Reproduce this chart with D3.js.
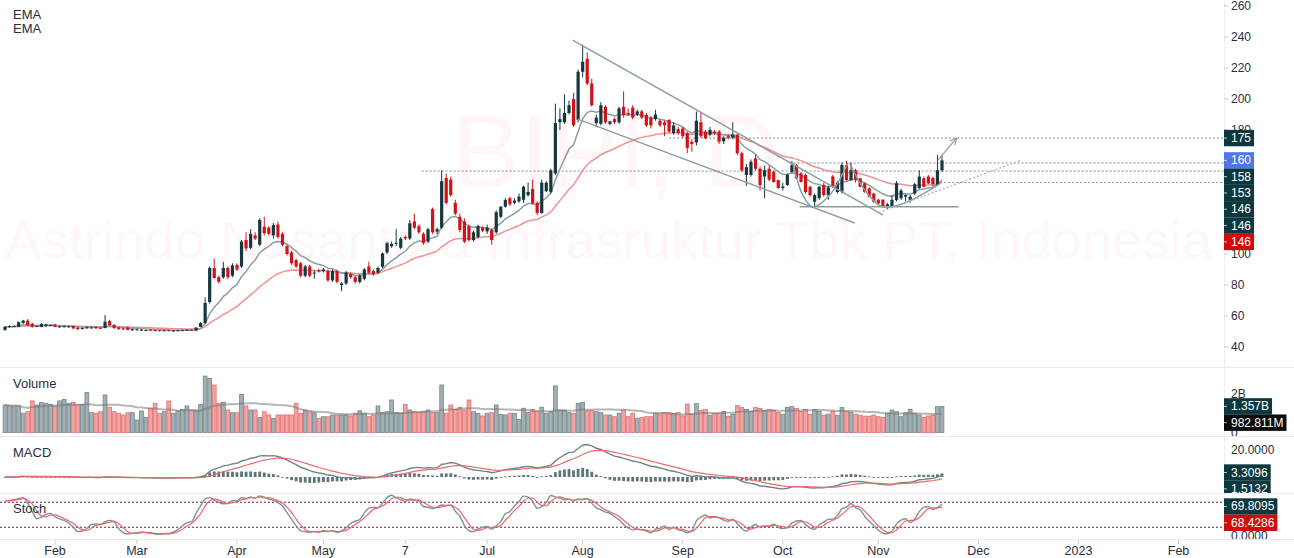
<!DOCTYPE html>
<html>
<head>
<meta charset="utf-8">
<script src="https://cdn.jsdelivr.net/npm/d3@7"></script>
<style>
  body { margin: 0; background: #fff; }
  svg { display: block; font-family: "Liberation Sans", Arial, sans-serif; }
</style>
</head>
<body>
<div id="chart"></div>
<script>
// --------------------------------------
//  Data
// --------------------------------------

// daily bars: [open, high, low, close]
const ohlc = [
  [51,53.5,50.5,53],[53,54,52.5,53.5],[53.2,54,53,53.6],[53,56.5,52.8,56],[55.5,57.5,55,57],
  [57,58,53.5,54],[55,55.5,52.5,53],[53,54,52.8,53.6],[53,55.5,52.8,54.8],[53.5,55,53,54.5],
  [53.8,54.5,53.5,54.2],[54.5,55,52.8,53],[52.8,53.6,52.5,53.3],[53,53.8,52.6,53.4],[53,53.6,52.6,53.3],
  [53.5,53.8,51.5,52],[52.5,53,51,51.5],[51.6,52.6,51.3,52.3],[52,53.2,51.8,52.8],[52.3,53,52,52.6],
  [53,53.4,51.8,52],[52.4,52.8,51.6,52],[52.3,60.6,52,56.3],[56.7,57.5,53.8,54],[54.2,54.8,51.8,52.2],
  [52.5,53,51.2,51.5],[52,52.5,51,51.4],[52.6,53,50.8,51],[50.8,51.8,50.5,51.5],[51,51.8,50.8,51.4],
  [50.8,51.6,50.5,51.2],[50.6,51.2,50.3,50.9],[51.2,51.5,50.2,50.5],[51,51.3,50,50.3],[50.8,51,50,50.4],
  [50.4,51,50.2,50.8],[51,51.2,50,50.3],[50.2,50.9,50,50.6],[50.4,51,50.2,50.8],[50.5,51.2,50.3,50.9],
  [50.6,51.4,50.5,51.1],[51.2,51.4,50.4,50.6],[50.6,52.8,50.4,52.5],[53,56,52.8,55.5],[55.5,72,55,68.4],
  [69,92,68,91],[91,97,84,84.5],[85,86,81,82],[85,95,84,91],[91,92,84,85],
  [86,94,85,92.7],[93,94,89,90],[92,109,91,108],[109,114,102,103.6],[104,116,103,113],
  [112,114,109,110],[106,123,105,122],[117.6,124,112,113.4],[117,118,112,113],[112,120,110,118.7],
  [119,121,110,111],[113,114,105,106],[105,106,99,100],[101,102,93,94],[96,97,91,92],
  [94,95,85,86],[86,93,85,92],[92,93,85,86],[87.5,89.5,84,88],[89.5,90.5,88,88.7],
  [89,91,88,90],[89,90,82,83],[83,90,82,89],[89,90,81,82],[80,82,76,81],
  [81,89,80,88],[87,88,84,85],[85,86,81,82],[82,87,81,86],[84,91,83,90],
  [92,95,87,88],[89,90,86,87],[88,92,87,91],[91.8,101,91,100.4],[101,108,100,107],
  [105,108,104,106.5],[106.5,116,105,107.2],[104,111,103,110],[111,112,109,110],[110,122,109,119.8],
  [121,126,116,117],[118,119,113,114],[113,114,106,107],[108,117,107,116],[129,130,113,114],
  [114.5,117,113,116],[117,154,116,147],[149,152,132,133],[148,150,137,138],[133,135,125,126],
  [124,126,114,115.5],[121,123,107,108],[118,119,108,109],[109,115,108,114],[111,119,110,118],
  [117,118,114,115],[114.6,119,113,117],[115.5,116.5,106,109],[114,128,113,127],[124,131,123,130.5],
  [130.5,136,130,134.8],[136,137,131,132],[133,136,132,134.5],[134,139,133,137],[135,144,133,143.4],
  [138,146,137,140],[142,148,132,132.6],[133,134,125,126.5],[126.5,148,126,146],[140.5,147,140,146],
  [140,155,139,154],[152,197,151,184.5],[185,194,180,187],[185,203,184,191],[191,199,190,196],
  [200,204,182,183],[186.5,219,185,217.6],[217.6,235,214,224],[226,230,209,210],[210,213,195,196],
  [184.5,190,182,188],[184,198,183,196],[195,196,184,185],[184,186,183,185.5],[187,188,184,185],
  [185,195,184,194],[195,205,188,189.7],[191,194,189,190],[194.5,196,187,188],[190,193,189,192],
  [192,193,187,188],[189.7,191,182,183],[188,189,181,183],[187,193,186,190],[186,187,182,183],
  [185,186,176,183],[186.5,187,178,179],[178,185,177,183],[180.6,182,177,178],[181,182,175,176],
  [178,179,165,168.4],[172.4,174,166,171],[172,192,170,186],[185,191,175,176],[179,180,174,174.6],
  [177,182,176,180],[179,180,177,178],[179,180,171,172.5],[172.7,176,171,175],[176,177,174,175],
  [175,185,174,177],[177,178,164,165],[165,166,153,154],[151,158,144,156],[151,161,150,159.5],
  [161.7,164,154,155],[155,156,141,144.5],[150,157,136,154],[155,157,147,148],[153,154,146,146.5],
  [147.7,148,142,142.6],[142.5,146,141,143.5],[144.5,152,144,151],[153,160,152,157.4],[157.4,158,148,148.8],
  [152,153,146,146.5],[151,152,139,140],[143.4,144,137,138],[133.7,139,129.7,138],[136,144,135,143.4],
  [144.5,146,137,138],[138,144,135,143],[150,151,143,144],[140,147,139,146],[140,159,139,157.4],
  [157.4,160,147,147.7],[147.7,159,147,154],[154,155,146,148],[148.8,149,143,143.4],[145.6,146,139.5,140],
  [142.4,143,136.5,137],[139,139.5,133,133.7],[135,135.5,132,132.6],[135,135.5,130.5,131],[130.5,133,129,132],
  [131,138,130.5,135],[134.8,147,134,145.6],[136,142,135,141],[137,138.5,134,138],[135,138,133,137],
  [139,146,138,145],[142.6,154,142,150],[148.8,150,143,143.4],[150,151,145,145.6],[149,150,144,145],
  [144.5,164,144,154],[154,163.8,153,160.4]
];

// volume, billions of shares
const volume = [
  1.43,1.39,1.38,1.38,1.0,1.08,1.64,1.43,1.55,1.52,
  1.46,1.38,1.64,1.72,1.52,1.57,1.43,1.46,2.07,1.03,
  1.0,1.08,1.95,1.31,1.08,1.0,0.91,1.03,1.03,0.65,
  1.12,0.79,1.26,1.52,1.0,1.08,1.64,1.0,1.12,1.2,
  1.38,1.17,1.17,1.46,2.93,2.81,2.47,1.52,1.57,1.17,
  1.03,1.03,1.98,1.38,1.17,1.17,0.79,1.08,0.91,0.74,
  0.91,0.91,0.91,0.91,1.52,1.0,1.17,1.08,1.03,0.74,
  0.82,0.82,0.91,0.91,0.91,0.91,0.86,1.0,1.13,1.0,
  0.82,0.91,1.38,1.03,1.08,1.69,1.03,1.0,1.46,1.17,
  1.08,1.03,1.08,1.17,1.03,1.03,2.47,1.0,1.43,1.2,
  1.31,1.17,1.69,1.08,1.0,0.86,1.0,1.03,1.43,0.94,
  0.91,1.0,1.0,0.68,1.26,1.05,1.2,1.08,1.31,1.0,
  1.08,2.42,1.17,1.17,1.03,1.0,1.52,1.57,1.13,1.13,
  1.08,1.03,0.91,0.91,0.82,1.0,1.17,0.82,1.0,0.74,
  0.77,0.82,0.82,1.0,0.97,1.03,1.03,1.0,1.03,0.86,
  1.48,0.95,1.5,1.15,1.2,0.9,1.0,1.0,1.1,0.85,
  0.95,1.4,1.3,1.2,1.1,1.3,1.25,1.15,1.2,1.15,
  1.05,0.95,1.3,1.35,1.25,1.1,1.2,0.95,1.2,1.1,
  0.9,0.95,1.1,0.9,1.3,1.1,1.05,0.95,0.9,0.85,
  0.85,0.91,0.82,0.79,1.0,1.17,1.08,0.82,1.03,1.2,
  1.0,0.91,0.79,0.86,0.91,1.34,1.357
];

// x axis: label and the bar index it sits on
const monthLabels = ["Feb", "Mar", "Apr", "May", "7", "Jul", "Aug", "Sep", "Oct", "Nov", "Dec", "2023", "Feb"];
const monthBars   = [11, 29, 51, 70, 88, 106, 127, 149, 171, 192, 214, 236, 258];

// price ticks that show (120/140/160 sit under the label boxes)
const priceTicks = [40, 60, 80, 100, 180, 200, 220, 240, 260];

// horizontal levels drawn on the chart: price and first bar
const levelPrices = [174.8, 158.7, 153.5, 146.1];
const levelFrom   = [146, 172.5, 91.6, 203];

// trend drawings, points as [bar, price]
const trendLines = [
  [[124.8, 238], [193, 125.2]],
  [[125.9, 187], [186.8, 120]],
  [[174.7, 130.5], [209.7, 130.5]]
];
const cupCurves = [
  [[173.2, 158.7], [175.4, 138], [177.6, 130.3], [181.3, 138], [185.3, 158.7]],
  [[185.7, 158.7], [189, 141.3], [193, 130.3], [197.8, 132.9], [202.2, 139.4], [205.5, 145.2]]
];
const arrowLine = [[205.1, 160.6], [209.2, 174.8]];
const dottedTrend = [[193, 127.7], [223.5, 160.6]];

// price scale labels (text, value, kind)
const priceLabelText  = ["175", "160", "158", "153", "146", "146", "146"];
const priceLabelValue = [174.8, 160.4, 158.7, 153.5, 146.1, 146, 146];
const priceLabelKind  = ["dark", "blue", "dark", "dark", "dark", "dark", "red"];

const volLabelText  = ["1.357B", "982.811M"];
const volLabelValue = [1.357, 0.983];
const volLabelKind  = ["dark", "black"];

const macdLabelText  = ["3.3096", "1.5132"];
const macdLabelValue = [3.3096, 1.5132];

const stochLabelText  = ["69.8095", "68.4286"];
const stochLabelValue = [69.8095, 68.4286];
const stochLabelKind  = ["dark", "red"];

// --------------------------------------
//  Canvas
// --------------------------------------

const width = 1294;
const height = 558;
const axisX = 1224;
const panes = {
  main:  [0, 367],
  vol:   [368, 436],
  macd:  [437, 493],
  stoch: [494, 539]
};

const UP = "#17373e";
const DOWN = "#d1121a";
const boxColor = {dark: "#0e3840", blue: "#5077e6", red: "#cf0b0b", black: "#0b0b0b"};

const svg = d3.select("#chart")
  .append("svg")
    .attr("width", width)
    .attr("height", height)
    .attr("viewBox", `0 0 ${width} ${height}`);

const defs = svg.append("defs");
Object.entries(panes).forEach(([k, [y0, y1]]) => {
  defs.append("clipPath").attr("id", "clip-" + k)
    .append("rect").attr("x", 0).attr("y", y0).attr("width", width).attr("height", y1 - y0);
});
defs.append("marker")
    .attr("id", "arrow")
    .attr("viewBox", "0 0 10 10")
    .attr("refX", 9).attr("refY", 5)
    .attr("markerWidth", 7).attr("markerHeight", 7)
    .attr("orient", "auto")
  .append("path")
    .attr("d", "M1,1 L9,5 L1,9")
    .attr("fill", "none")
    .attr("stroke", "#8d9ea3")
    .attr("stroke-width", 1.3);

// --------------------------------------
//  Scales
// --------------------------------------

const x = d3.scaleLinear().domain([0, 206]).range([5, 942]);
const yP = d3.scaleLinear().domain([40, 260]).range([347, 6]);
const yV = d3.scaleLinear().domain([0, 2]).range([432.5, 394]);
const yM = d3.scaleLinear().domain([0, 20]).range([477, 450]);
const yS = d3.scaleLinear().domain([0, 100]).range([535.6, 493.9]);

// --------------------------------------
//  Indicators from the bars
// --------------------------------------

const bars = ohlc.map((d, i) => ({i, o: d[0], h: d[1], l: d[2], c: d[3], up: d[3] >= d[0], v: volume[i]}));
const closes = bars.map(d => d.c);

function ema(arr, n) {
  const k = 2 / (n + 1);
  let e = arr[0];
  return arr.map((v, i) => (e = i === 0 ? v : v * k + e * (1 - k)));
}
function sma(arr, n) {
  return arr.map((v, i) => d3.mean(arr.slice(Math.max(0, i - n + 1), i + 1)));
}

const emaFast = ema(closes, 10);
const emaSlow = ema(closes, 30);
const e12 = ema(closes, 12), e26 = ema(closes, 26);
const macd = e12.map((v, i) => v - e26[i]);
const signal = ema(macd, 9);
const hist = macd.map((v, i) => v - signal[i]);
const rawK = bars.map((d, i) => {
  const w = bars.slice(Math.max(0, i - 13), i + 1);
  const hh = d3.max(w, b => b.h), ll = d3.min(w, b => b.l);
  return hh === ll ? 50 : 100 * (d.c - ll) / (hh - ll);
});
const stochK = sma(rawK, 3);
const stochD = sma(stochK, 3);
const volMA = sma(volume, 20);

// --------------------------------------
//  Frame
// --------------------------------------

const wm = svg.append("g").attr("fill", "#f23645").attr("fill-opacity", 0.045);
wm.append("text")
    .attr("x", 615).attr("y", 187)
    .attr("text-anchor", "middle")
    .attr("font-size", 103)
    .text("BIPI, D");
wm.append("text")
    .attr("x", 5).attr("y", 258)
    .attr("font-size", 52)
    .attr("textLength", 1207)
    .attr("lengthAdjust", "spacingAndGlyphs")
    .text("Astrindo Nusantara Infrasruktur Tbk PT, Indonesia");

svg.append("g")
    .selectAll("line")
    .data([367.5, 436.5, 493.5, 539.5])
    .join("line")
    .attr("x1", 0).attr("x2", width)
    .attr("y1", d => d).attr("y2", d => d)
    .attr("stroke", "#ebebeb");

svg.append("line")
    .attr("x1", axisX + 0.5).attr("x2", axisX + 0.5)
    .attr("y1", 0).attr("y2", 539)
    .attr("stroke", "#efefef");

// --------------------------------------
//  Main pane
// --------------------------------------

const main = svg.append("g").attr("clip-path", "url(#clip-main)");

main.append("g")
    .selectAll("line")
    .data(levelPrices)
    .join("line")
    .attr("x1", (d, i) => x(levelFrom[i]))
    .attr("x2", axisX)
    .attr("y1", d => yP(d)).attr("y2", d => yP(d))
    .attr("stroke", "#7f9196")
    .attr("stroke-dasharray", "2,2");

const priceLine = d3.line().x((d, i) => x(i)).y(d => yP(d));
main.append("path").attr("d", priceLine(emaSlow))
    .attr("fill", "none").attr("stroke", "#ef7f7f").attr("stroke-opacity", 0.85).attr("stroke-width", 1.5);
main.append("path").attr("d", priceLine(emaFast))
    .attr("fill", "none").attr("stroke", "#8c9ea3").attr("stroke-width", 1.5);

main.append("g")
    .selectAll("line")
    .data(bars)
    .join("line")
    .attr("x1", d => x(d.i)).attr("x2", d => x(d.i))
    .attr("y1", d => yP(d.h)).attr("y2", d => yP(d.l))
    .attr("stroke", d => d.up ? UP : DOWN);

main.append("g")
    .selectAll("rect")
    .data(bars)
    .join("rect")
    .attr("x", d => x(d.i) - 1.6)
    .attr("width", 3.2)
    .attr("y", d => yP(Math.max(d.o, d.c)))
    .attr("height", d => Math.max(1, Math.abs(yP(d.o) - yP(d.c))))
    .attr("fill", d => d.up ? UP : DOWN);

const drawLine = d3.line().x(d => x(d[0])).y(d => yP(d[1]));
const drawings = main.append("g").attr("fill", "none").attr("stroke", "#8d9ea3").attr("stroke-width", 1.5);
drawings.selectAll(".trend")
    .data(trendLines)
    .join("path")
    .attr("class", "trend")
    .attr("d", drawLine);
drawings.selectAll(".cup")
    .data(cupCurves)
    .join("path")
    .attr("class", "cup")
    .attr("d", d3.line().curve(d3.curveCatmullRom).x(d => x(d[0])).y(d => yP(d[1])));
drawings.append("path")
    .attr("d", drawLine(arrowLine))
    .attr("stroke-width", 1.2)
    .attr("marker-end", "url(#arrow)");
drawings.append("path")
    .attr("d", drawLine(dottedTrend))
    .attr("stroke", "#a9b6ba")
    .attr("stroke-width", 1.2)
    .attr("stroke-dasharray", "2,2");

// --------------------------------------
//  Volume pane
// --------------------------------------

const vol = svg.append("g").attr("clip-path", "url(#clip-vol)");
vol.append("g")
    .selectAll("rect")
    .data(bars)
    .join("rect")
    .attr("x", d => x(d.i) - 1.9)
    .attr("width", 3.8)
    .attr("y", d => yV(d.v))
    .attr("height", d => yV(0) - yV(d.v))
    .attr("fill", d => d.up ? "#a2b0b4" : "#f3a3a3")
    .attr("stroke", d => d.up ? "#73878c" : "#e46f6f")
    .attr("stroke-width", 0.8);
vol.append("path")
    .attr("d", d3.line().x((d, i) => x(i)).y(d => yV(d))(volMA))
    .attr("fill", "none")
    .attr("stroke", "#7a7a7a")
    .attr("stroke-opacity", 0.55)
    .attr("stroke-width", 2);

// --------------------------------------
//  MACD pane
// --------------------------------------

const mac = svg.append("g").attr("clip-path", "url(#clip-macd)");
mac.append("g")
    .selectAll("rect")
    .data(hist)
    .join("rect")
    .attr("x", (d, i) => x(i) - 1.4)
    .attr("width", 2.8)
    .attr("y", d => Math.min(yM(0), yM(d)))
    .attr("height", d => Math.max(0.8, Math.abs(yM(d) - yM(0))))
    .attr("fill", "#5f7479");
const macdLine = d3.line().x((d, i) => x(i)).y(d => yM(d));
mac.append("path").attr("d", macdLine(macd))
    .attr("fill", "none").attr("stroke", "#6f8489").attr("stroke-width", 1.4);
mac.append("path").attr("d", macdLine(signal))
    .attr("fill", "none").attr("stroke", "#ef6b6b").attr("stroke-width", 1.2);

// --------------------------------------
//  Stoch pane
// --------------------------------------

const sto = svg.append("g").attr("clip-path", "url(#clip-stoch)");
sto.append("g")
    .selectAll("line")
    .data([80, 20])
    .join("line")
    .attr("x1", 0).attr("x2", axisX)
    .attr("y1", d => yS(d)).attr("y2", d => yS(d))
    .attr("stroke", "#6e1c40")
    .attr("stroke-dasharray", "2,2");
const stochLine = d3.line().curve(d3.curveMonotoneX).x((d, i) => x(i)).y(d => yS(d));
sto.append("path").attr("d", stochLine(stochK))
    .attr("fill", "none").attr("stroke", "#7f9499").attr("stroke-width", 1.4);
sto.append("path").attr("d", stochLine(stochD))
    .attr("fill", "none").attr("stroke", "#f06666").attr("stroke-width", 1.2);

// --------------------------------------
//  Axes and labels
// --------------------------------------

const axisText = (g, xx, yy, t) => g.append("text")
    .attr("x", xx).attr("y", yy)
    .attr("dominant-baseline", "central")
    .attr("font-size", 12)
    .attr("fill", "#2a2e39")
    .text(t);

priceTicks.forEach(v => {
  main.append("line").attr("x1", axisX).attr("x2", axisX + 4)
    .attr("y1", yP(v)).attr("y2", yP(v)).attr("stroke", "#c8c8c8");
  axisText(main, axisX + 7, yP(v), v);
});
axisText(vol, axisX + 7, yV(2), "2B");
axisText(vol, axisX + 7, yV(0), "0");
axisText(mac, axisX + 7, yM(20), "20.0000");
axisText(sto, axisX + 7, yS(0), "0.0000");

function stackLabels(g, texts, ys, colors) {
  let prev = -Infinity;
  texts.forEach((t, i) => {
    const yy = Math.max(ys[i], prev + 16.3);
    prev = yy;
    const box = g.append("rect")
        .attr("x", axisX).attr("y", yy - 8.2).attr("height", 16.4)
        .attr("fill", colors[i]);
    const txt = g.append("text")
        .attr("x", axisX + 7).attr("y", yy)
        .attr("dominant-baseline", "central")
        .attr("font-size", 12)
        .attr("fill", "#fff")
        .text(t);
    box.attr("width", txt.node().getComputedTextLength() + 10);
    g.append("line").attr("x1", axisX).attr("x2", axisX + 3)
      .attr("y1", yy).attr("y2", yy).attr("stroke", "#fff").attr("stroke-opacity", 0.7);
  });
}

stackLabels(main, priceLabelText, priceLabelValue.map(yP), priceLabelKind.map(k => boxColor[k]));
stackLabels(vol, volLabelText, volLabelValue.map(yV), volLabelKind.map(k => boxColor[k]));
stackLabels(mac, macdLabelText, macdLabelValue.map(yM), macdLabelText.map(() => boxColor.dark));
stackLabels(sto, stochLabelText, stochLabelValue.map(yS), stochLabelKind.map(k => boxColor[k]));

const xAxis = svg.append("g");
xAxis.selectAll("line")
    .data(monthBars)
    .join("line")
    .attr("x1", d => x(d)).attr("x2", d => x(d))
    .attr("y1", 540).attr("y2", 544)
    .attr("stroke", "#cfcfcf");
xAxis.selectAll("text")
    .data(monthLabels)
    .join("text")
    .attr("x", (d, i) => x(monthBars[i]))
    .attr("y", 551)
    .attr("text-anchor", "middle")
    .attr("dominant-baseline", "central")
    .attr("font-size", 12.5)
    .attr("fill", "#2a2e39")
    .text(d => d);

const titles = [["EMA", 19], ["EMA", 33], ["Volume", 388], ["MACD", 457], ["Stoch", 513]];
svg.append("g")
    .selectAll("text")
    .data(titles)
    .join("text")
    .attr("x", 13)
    .attr("y", d => d[1])
    .attr("font-size", 13)
    .attr("fill", "#2a2e39")
    .text(d => d[0]);
</script>
</body>
</html>
